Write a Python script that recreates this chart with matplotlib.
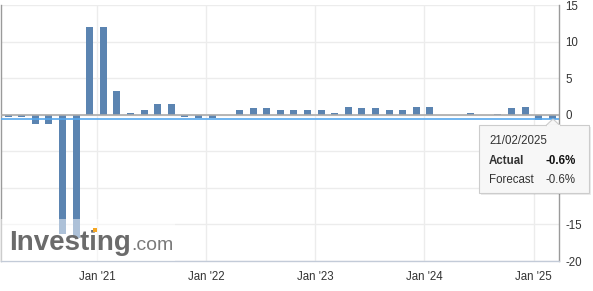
import numpy as np
import pandas as pd
import matplotlib
matplotlib.use("Agg")
import matplotlib.pyplot as plt
import matplotlib.dates as mdates
from matplotlib.patches import Rectangle, Polygon

plt.rcParams['font.family'] = ['Liberation Sans', 'DejaVu Sans']

# release dates (as placed on the chart) and MoM values in %
dates = ["2020-03-12", "2020-04-25", "2020-06-11", "2020-07-24", "2020-09-09",
         "2020-10-26", "2020-12-08", "2021-01-24", "2021-03-09", "2021-04-24",
         "2021-06-10", "2021-07-24", "2021-09-09", "2021-10-22", "2021-12-08",
         "2022-01-24", "2022-03-10", "2022-04-24", "2022-06-10", "2022-07-23",
         "2022-09-08", "2022-10-22", "2022-12-07", "2023-01-23", "2023-03-08",
         "2023-04-24", "2023-06-06", "2023-07-23", "2023-09-08", "2023-10-21",
         "2023-12-07", "2024-01-20", "2024-03-05", "2024-04-20", "2024-06-05",
         "2024-07-20", "2024-09-03", "2024-10-20", "2024-12-06", "2025-01-18",
         "2025-03-06"]
values = [-0.3, -0.3, -1.3, -1.3, -16.3, -16.9, 12.0, 12.0, 3.2, 0.3,
          0.7, 1.4, 1.4, -0.3, -0.5, -0.5, 0.0, 0.7, 0.9, 0.9,
          0.7, 0.7, 0.7, 0.7, 0.3, 1.0, 0.9, 0.9, 0.7, 0.7,
          1.0, 1.0, 0.0, 0.0, 0.2, 0.0, 0.1, 0.9, 1.0, -0.7,
          -0.6]
year_ticks = ["2021-01-01", "2022-01-01", "2023-01-01", "2024-01-01", "2025-01-01"]
year_labels = ["Jan '21", "Jan '22", "Jan '23", "Jan '24", "Jan '25"]
y_ticks = [-20, -15, -10, -5, 0, 5, 10, 15]
y_hidden = [-10, -5]   # these sit under the tooltip
latest = -0.6
tip_date = "21/02/2025"
tip_actual = "-0.6%"
tip_forecast = "-0.6%"

W, H = 593, 291
fig = plt.figure(figsize=(W / 100, H / 100), dpi=100)
ax = fig.add_axes([1 / W, 30 / H, 558 / W, 256 / H])

x = mdates.date2num(pd.to_datetime(dates))
ax.bar(x, values, width=23.4, color='#5b84b1', zorder=3)

ax.axhline(0, color='#aaaaaa', lw=1.2, zorder=4)
ax.axhline(latest, color='#56a8ee', lw=1.2, zorder=4)

ax.set_xlim(mdates.date2num(pd.Timestamp("2020-02-15")),
            mdates.date2num(pd.Timestamp("2025-03-27")))
ax.set_ylim(-20, 15)

xt = mdates.date2num(pd.to_datetime(year_ticks))
ax.set_xticks(xt)
ax.set_xticklabels(year_labels)
ax.set_yticks(y_ticks)
ax.set_yticklabels(["" if v in y_hidden else str(v) for v in y_ticks])
ax.yaxis.tick_right()
ax.tick_params(axis='both', length=0, labelsize=8.3, labelcolor='#333333')
ax.tick_params(axis='x', pad=7)
ax.tick_params(axis='y', pad=4.5)
for lab in ax.get_yticklabels():
    lab.set_horizontalalignment('left')

ax.grid(True, color='#ececec', lw=1, zorder=0)
ax.set_axisbelow(True)
for s in ['left', 'right']:
    ax.spines[s].set_color('#9a9a9a')
    ax.spines[s].set_linewidth(1)
ax.spines['top'].set_visible(False)
ax.spines['bottom'].set_color('#c3cbd8')
ax.spines['bottom'].set_linewidth(1)


def fx(px):
    return px / W


def fy(py):
    return 1 - py / H


# watermark
fig.add_artist(Rectangle((fx(1), fy(261)), fx(175) - fx(1), fy(219) - fy(261),
                         transform=fig.transFigure, facecolor='white',
                         alpha=0.5, edgecolor='none', zorder=5))
fig.text(fx(9), fy(250), "Investing", fontsize=20, fontweight='bold',
         color='#6b6b6b', va='baseline', zorder=6)
fig.text(fx(131), fy(250), ".com", fontsize=14, color='#7a7a7a',
         va='baseline', zorder=6)
fig.add_artist(Rectangle((fx(93), fy(232)), 4 / W, 4 / H, transform=fig.transFigure,
                         facecolor='#f5a623', edgecolor='none', zorder=7))

# tooltip
bx0, by0, bx1, by1 = 479, 125, 589, 193
fig.add_artist(Rectangle((fx(bx0 + 2), fy(by1 + 2)), fx(bx1) - fx(bx0), fy(by0) - fy(by1),
                         transform=fig.transFigure, facecolor='#000000', alpha=0.08,
                         edgecolor='none', zorder=8))
fig.add_artist(Rectangle((fx(bx0), fy(by1)), fx(bx1) - fx(bx0), fy(by0) - fy(by1),
                         transform=fig.transFigure, facecolor='#f7f7f7',
                         edgecolor='#cccccc', lw=0.8, zorder=9))
fig.add_artist(Polygon([(fx(546), fy(125.5)), (fx(553), fy(119)), (fx(560), fy(125.5))],
                       closed=True, transform=fig.transFigure, facecolor='#f7f7f7',
                       edgecolor='#cccccc', lw=0.8, zorder=9))
fig.add_artist(Rectangle((fx(546.5), fy(126.5)), 13 / W, 2 / H, transform=fig.transFigure,
                         facecolor='#f7f7f7', edgecolor='none', zorder=10))
fig.text(fx(489), fy(141), tip_date, fontsize=8.3, color='#333333', va='center', zorder=11)
fig.text(fx(489), fy(160.5), "Actual", fontsize=8.3, fontweight='bold', color='#333333',
         va='center', zorder=11)
fig.text(fx(576), fy(160.5), tip_actual, fontsize=8.3, fontweight='bold', color='#111111',
         va='center', ha='right', zorder=11)
fig.text(fx(489), fy(180), "Forecast", fontsize=8.3, color='#333333', va='center', zorder=11)
fig.text(fx(576), fy(180), tip_forecast, fontsize=8.3, color='#333333',
         va='center', ha='right', zorder=11)

fig.savefig("out.png", dpi=100, facecolor='white')
